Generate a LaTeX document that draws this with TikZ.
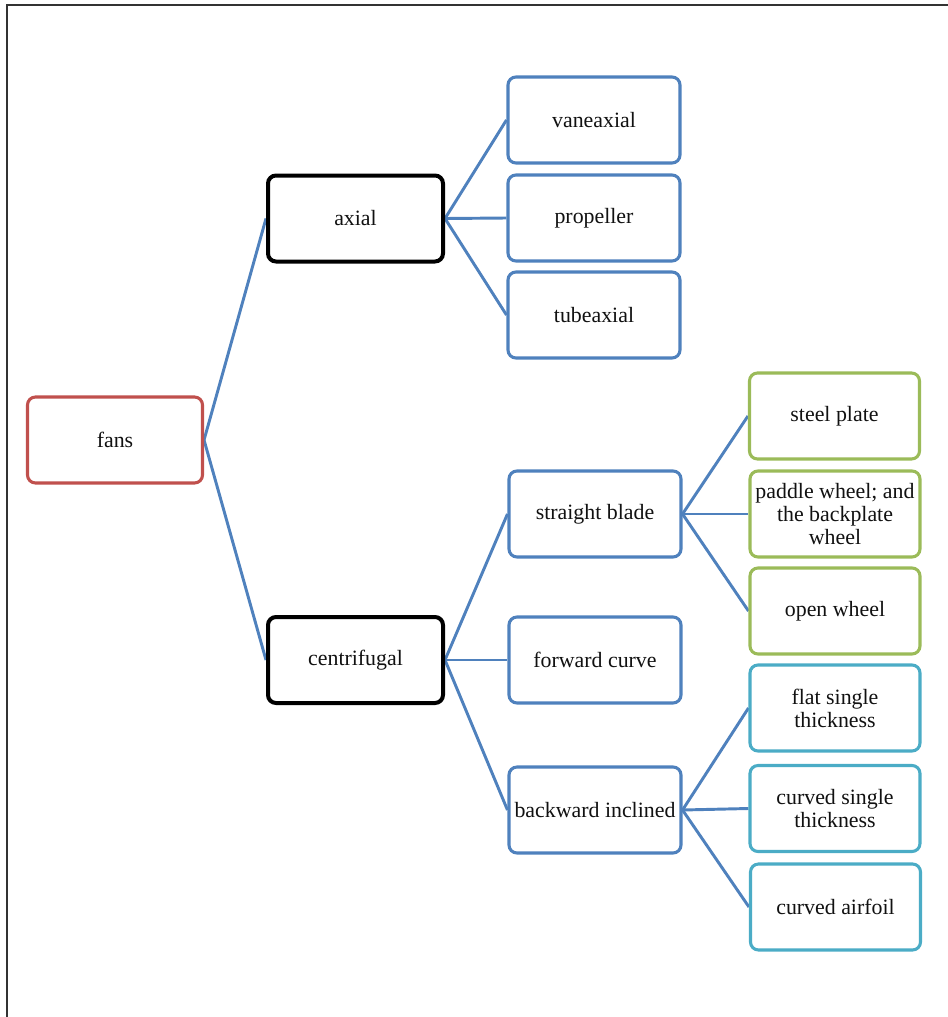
\documentclass[tikz,border=0pt]{standalone}
\usepackage{fontspec}
\setmainfont{Liberation Serif}
\usetikzlibrary{backgrounds}
\definecolor{ofblue}{HTML}{4F81BD}
\definecolor{ofred}{HTML}{C0504D}
\definecolor{ofgreen}{HTML}{9BBB59}
\definecolor{ofteal}{HTML}{4BACC6}
\definecolor{frame}{HTML}{333333}
\definecolor{txt}{HTML}{111111}
\begin{document}
\begin{tikzpicture}[x=0.75pt,y=-0.75pt,
  box/.style={rectangle, rounded corners=6pt, fill=white, line width=2.3pt,
    minimum width=172*0.75pt, minimum height=86*0.75pt, inner sep=0pt,
    align=center, text=txt,
    font=\fontsize{16.4}{17.2}\selectfont},
  rootbox/.style={box, draw=ofred, minimum width=175*0.75pt},
  midbox/.style={box, draw=black, line width=3pt, minimum width=175*0.75pt},
  leafbox/.style={box, draw=ofblue},
  greenbox/.style={box, draw=ofgreen, minimum width=170*0.75pt},
  tealbox/.style={box, draw=ofteal, minimum width=170*0.75pt},
  link/.style={draw=ofblue, line width=2.2pt}]
\useasboundingbox (0,0) rectangle (948,1017);
\draw[frame, line width=2pt] (7,1017) -- (7,5) -- (948,5);

\node[rootbox] (fans) at (115,440) {fans};
\node[midbox] (axial) at (355.5,218.5) {axial};
\node[midbox] (centrifugal) at (355.5,660) {centrifugal};

\node[leafbox] (vaneaxial) at (594,120) {vaneaxial};
\node[leafbox] (propeller) at (594,218) {propeller};
\node[leafbox] (tubeaxial) at (594,315) {tubeaxial};

\node[leafbox] (straight) at (595,514) {straight blade};
\node[leafbox] (forward) at (595,660) {forward curve};
\node[leafbox] (backward) at (595,810) {backward inclined};

\node[greenbox] (steel) at (834.5,416) {steel plate};
\node[greenbox] (paddle) at (835,514) {paddle wheel; and\\the backplate\\wheel};
\node[greenbox] (open) at (835,611) {open wheel};

\node[tealbox] (flat) at (835,708) {flat single\\thickness};
\node[tealbox] (curvedsingle) at (835,808.5) {curved single\\thickness};
\node[tealbox] (airfoil) at (835.5,907) {curved airfoil};

\begin{scope}[on background layer]
\draw[link] (fans.east) -- (axial.west);
\draw[link] (fans.east) -- (centrifugal.west);
\draw[link] (axial.east) -- (vaneaxial.west);
\draw[link] (axial.east) -- (propeller.west);
\draw[link] (axial.east) -- (tubeaxial.west);
\draw[link] (centrifugal.east) -- (straight.west);
\draw[link] (centrifugal.east) -- (forward.west);
\draw[link] (centrifugal.east) -- (backward.west);
\draw[link] (straight.east) -- (steel.west);
\draw[link] (straight.east) -- (paddle.west);
\draw[link] (straight.east) -- (open.west);
\draw[link] (backward.east) -- (flat.west);
\draw[link] (backward.east) -- (curvedsingle.west);
\draw[link] (backward.east) -- (airfoil.west);
\end{scope}
\end{tikzpicture}
\end{document}
